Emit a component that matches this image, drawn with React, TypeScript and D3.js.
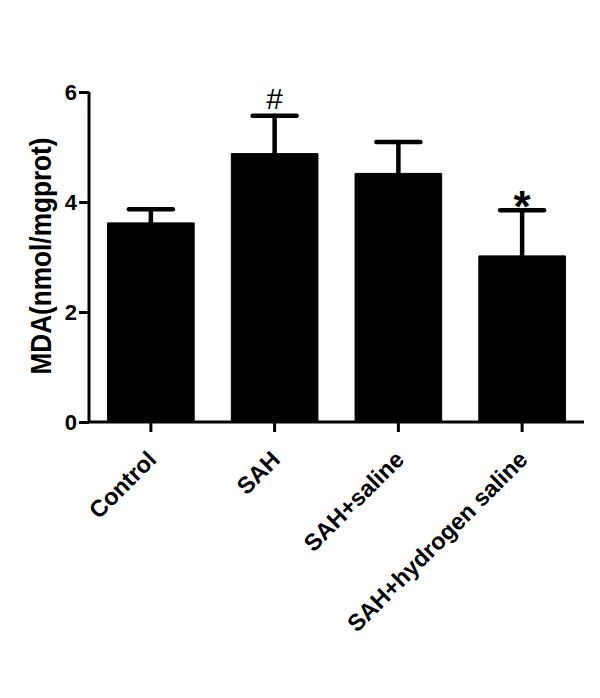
import React, { useEffect, useRef } from 'react';
import * as d3 from 'd3';

const groups = ['Control', 'SAH', 'SAH+saline', 'SAH+hydrogen saline'];
const means = [3.62, 4.88, 4.52, 3.02];
const errors = [0.25, 0.69, 0.57, 0.83];
const marks = ['', '#', '', '*'];
const yTicks = [0, 2, 4, 6];

const FONT = 'Arial, "Liberation Sans", sans-serif';

function draw(node: SVGSVGElement) {
  const margin = { top: 92, left: 89 };
  const width = 495, height = 330;

  const svg = d3.select(node);
  svg.selectAll('*').remove();
  const g = svg.append('g').attr('transform', `translate(${margin.left}, ${margin.top})`);

  const x = d3.scaleBand<string>()
              .domain(groups)
              .range([0, width])
              .paddingInner(0.3)
              .paddingOuter(0.15);
  const y = d3.scaleLinear().domain([0, 6]).range([height, 0]);

  // bars
  g.selectAll('rect.bar')
   .data(groups)
   .join('rect')
   .attr('class', 'bar')
   .attr('x', d => x(d)!)
   .attr('y', (d, i) => y(means[i]))
   .attr('width', x.bandwidth())
   .attr('height', (d, i) => height - y(means[i]))
   .attr('fill', '#000')
   .attr('stroke', '#000')
   .attr('stroke-width', 1)
   .attr('stroke-linejoin', 'round');

  // error bars (upper only)
  const capHalf = 22;
  const err = g.append('g').attr('stroke', '#000').attr('stroke-width', 4.5).attr('stroke-linecap', 'round');
  groups.forEach((d, i) => {
    const cx = x(d)! + x.bandwidth() / 2;
    const top = y(means[i] + errors[i]);
    err.append('line')
       .attr('x1', cx).attr('x2', cx)
       .attr('y1', y(means[i])).attr('y2', top);
    err.append('line')
       .attr('x1', cx - capHalf).attr('x2', cx + capHalf)
       .attr('y1', top).attr('y2', top);
    if (marks[i] === '#') {
      g.append('text')
       .attr('x', cx)
       .attr('y', top - 7)
       .attr('text-anchor', 'middle')
       .attr('font-family', FONT)
       .attr('font-size', 30)
       .text('#');
    } else if (marks[i] === '*') {
      g.append('text')
       .attr('x', cx)
       .attr('y', top + 12)
       .attr('text-anchor', 'middle')
       .attr('font-family', FONT)
       .attr('font-weight', 'bold')
       .attr('font-size', 44)
       .text('*');
    }
  });

  // y axis
  const yAxis = g.append('g')
                 .call(d3.axisLeft(y).tickValues(yTicks).tickSize(10).tickFormat(d3.format('d')));
  yAxis.select('.domain').attr('stroke-width', 3).attr('d', `M0,${height}V0`);
  yAxis.selectAll('.tick line').attr('stroke-width', 3);
  yAxis.selectAll('.tick text')
       .attr('font-family', FONT)
       .attr('font-weight', 'bold')
       .attr('font-size', 22)
       .attr('x', -12);

  // x axis
  const xAxis = g.append('g')
                 .attr('transform', `translate(0, ${height})`)
                 .call(d3.axisBottom(x).tickSize(10).tickSizeOuter(0));
  xAxis.select('.domain').attr('stroke-width', 3).attr('d', `M0,0H${width}`);
  xAxis.selectAll('.tick line').attr('stroke-width', 3);
  xAxis.selectAll('.tick text')
       .attr('font-family', FONT)
       .attr('font-weight', 'bold')
       .attr('font-size', 23.5)
       .attr('text-anchor', 'end')
       .attr('y', 0)
       .attr('dy', 0)
       .attr('transform', 'translate(7, 39) rotate(-45)');

  // y label
  g.append('text')
   .attr('transform', `translate(-49, ${height / 2 - 1}) rotate(-90)`)
   .attr('text-anchor', 'middle')
   .attr('dy', '0.35em')
   .attr('font-family', FONT)
   .attr('font-weight', 'bold')
   .attr('font-size', 30)
   .attr('textLength', 237)
   .attr('lengthAdjust', 'spacingAndGlyphs')
   .text('MDA(nmol/mgprot)');
}

export default function App() {
  const ref = useRef<SVGSVGElement>(null);
  useEffect(() => {
    if (ref.current) draw(ref.current);
  }, []);
  return (
    <svg ref={ref} width={600} height={698}
         style={{ position: 'absolute', left: 0, top: 0, background: '#fff' }} />
  );
}
